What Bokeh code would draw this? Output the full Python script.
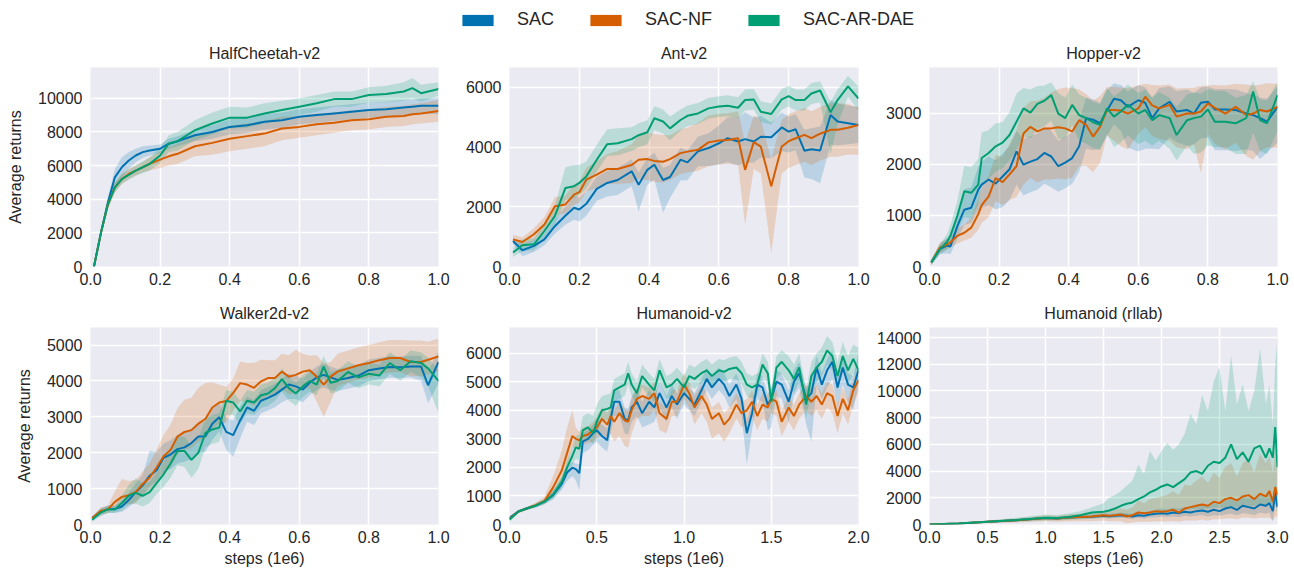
from bokeh.plotting import figure
from bokeh.models import Range1d, FixedTicker, PrintfTickFormatter, Legend, LegendItem
from bokeh.layouts import column, row
from bokeh.embed import file_html
from bokeh.resources import INLINE

methods = ["SAC", "SAC-NF", "SAC-AR-DAE"]
colors = ["#0072B2", "#D55E00", "#009E73"]
FONT = "Liberation Sans"
TXT = "#262626"

# ---------------- HalfCheetah-v2 ----------------
hc_x = [0.01, 0.03, 0.05, 0.07, 0.09, 0.11, 0.13, 0.15, 0.17, 0.2, 0.225, 0.25, 0.3, 0.35, 0.4, 0.45, 0.5, 0.55, 0.6, 0.65, 0.7, 0.75, 0.8, 0.85, 0.9, 0.925, 0.95, 1.0]
hc_sac = [0, 2000, 3800, 5300, 5900, 6300, 6600, 6800, 6900, 7000, 7300, 7450, 7800, 8000, 8300, 8400, 8600, 8700, 8900, 9000, 9100, 9200, 9300, 9350, 9450, 9500, 9550, 9550]
hc_sac_hw = [100, 200, 300, 500, 600, 500, 400, 350, 300, 250, 300, 300, 350, 400, 450, 450, 450, 450, 450, 450, 450, 450, 450, 450, 450, 450, 450, 500]
hc_nf = [0, 2000, 3700, 4700, 5200, 5500, 5700, 5900, 6100, 6350, 6550, 6700, 7150, 7350, 7600, 7750, 7900, 8200, 8300, 8450, 8550, 8700, 8750, 8900, 8950, 9050, 9100, 9250]
hc_nf_hw = [100, 200, 300, 300, 300, 300, 300, 300, 400, 500, 550, 600, 600, 700, 750, 750, 750, 700, 650, 650, 600, 600, 600, 600, 600, 600, 600, 650]
hc_ar = [0, 2000, 3700, 4700, 5200, 5450, 5700, 5900, 6100, 6600, 7300, 7450, 8100, 8500, 8850, 8850, 9100, 9300, 9500, 9700, 9950, 9950, 10200, 10250, 10400, 10600, 10300, 10550]
hc_ar_hw = [100, 200, 300, 300, 300, 300, 300, 350, 400, 450, 500, 550, 600, 650, 650, 600, 600, 550, 500, 500, 450, 450, 450, 500, 550, 600, 500, 400]

# ---------------- Ant-v2 ----------------
ant_x = [0.01, 0.037, 0.07, 0.1, 0.13, 0.16, 0.185, 0.2, 0.22, 0.25, 0.28, 0.31, 0.35, 0.37, 0.395, 0.415, 0.44, 0.46, 0.49, 0.51, 0.54, 0.57, 0.6, 0.625, 0.655, 0.675, 0.7, 0.72, 0.75, 0.78, 0.8, 0.82, 0.845, 0.865, 0.89, 0.92, 0.94, 0.97, 1.0]
ant_sac = [855, 545, 690, 910, 1350, 1700, 1970, 1910, 2100, 2600, 2800, 2900, 3190, 2740, 3240, 3410, 2900, 3000, 3580, 3490, 3860, 3970, 4130, 4300, 4190, 4270, 4190, 4350, 4330, 4660, 4520, 4600, 3880, 3930, 3890, 5080, 4860, 4800, 4740]
ant_sac_dn = [100, 200, 200, 200, 250, 300, 400, 400, 400, 400, 450, 500, 500, 900, 500, 500, 1100, 700, 700, 600, 500, 600, 700, 800, 800, 800, 700, 700, 700, 800, 700, 700, 900, 1000, 1100, 1000, 800, 700, 600]
ant_sac_up = [100, 200, 200, 200, 250, 300, 400, 400, 400, 400, 400, 400, 400, 400, 400, 400, 400, 400, 400, 400, 500, 500, 600, 700, 800, 900, 800, 700, 500, 500, 500, 500, 700, 700, 800, 500, 600, 600, 600]
ant_nf = [910, 820, 1080, 1410, 2020, 2080, 2410, 2490, 2910, 3080, 3270, 3270, 3400, 3580, 3600, 3540, 3510, 3600, 3800, 3850, 3910, 4160, 4220, 4240, 4300, 3240, 4170, 4020, 2690, 4020, 4200, 4300, 4410, 4300, 4450, 4580, 4580, 4650, 4740]
ant_nf_dn = [150, 150, 200, 250, 300, 300, 350, 350, 400, 450, 500, 500, 600, 650, 700, 700, 700, 700, 700, 700, 700, 800, 800, 800, 900, 1850, 900, 900, 2250, 900, 900, 900, 900, 900, 900, 900, 900, 900, 1000]
ant_nf_up = [150, 150, 200, 250, 300, 300, 350, 350, 400, 450, 500, 600, 700, 800, 900, 900, 900, 800, 800, 800, 900, 900, 900, 900, 900, 900, 900, 900, 900, 900, 900, 900, 900, 900, 900, 900, 900, 800, 600]
ant_ar = [470, 710, 745, 1190, 1690, 2630, 2690, 2800, 3020, 3580, 4100, 4130, 4270, 4400, 4500, 4970, 4860, 4630, 4910, 5050, 5130, 5300, 5360, 5390, 5320, 5580, 5600, 5190, 5110, 5600, 5710, 5580, 5580, 5800, 5900, 5170, 5580, 6040, 5630]
ant_ar_dn = [150, 200, 200, 250, 300, 400, 400, 400, 400, 400, 400, 400, 400, 400, 400, 400, 400, 400, 350, 350, 350, 350, 350, 350, 350, 350, 350, 350, 350, 350, 350, 350, 350, 350, 400, 1400, 800, 350, 400]
ant_ar_up = [150, 200, 200, 250, 350, 700, 700, 600, 500, 500, 500, 500, 400, 400, 400, 400, 400, 400, 350, 350, 350, 350, 350, 350, 350, 350, 350, 350, 350, 350, 350, 350, 350, 350, 300, 350, 350, 350, 400]

# ---------------- Hopper-v2 ----------------
hop_x = [0.005, 0.03, 0.05, 0.06, 0.08, 0.1, 0.12, 0.14, 0.15, 0.17, 0.19, 0.21, 0.23, 0.25, 0.27, 0.29, 0.31, 0.33, 0.35, 0.37, 0.39, 0.41, 0.43, 0.45, 0.47, 0.49, 0.51, 0.53, 0.55, 0.57, 0.6, 0.62, 0.64, 0.66, 0.69, 0.71, 0.74, 0.76, 0.78, 0.8, 0.82, 0.85, 0.88, 0.91, 0.93, 0.95, 0.97, 1.0]
hop_sac = [80, 340, 410, 390, 790, 1110, 1150, 1500, 1600, 1700, 1620, 1760, 1900, 2250, 1990, 2050, 2100, 2220, 2150, 1960, 2030, 2120, 2350, 2900, 2870, 2800, 3050, 3280, 3250, 3120, 3250, 3200, 2900, 3090, 3220, 3030, 3060, 2990, 3200, 3220, 3070, 3070, 3060, 2990, 2960, 2900, 2830, 3120]
hop_sac_dn = [50, 100, 150, 150, 250, 300, 300, 400, 450, 500, 500, 600, 600, 650, 600, 600, 600, 600, 600, 500, 500, 500, 500, 600, 600, 500, 500, 500, 600, 800, 1000, 900, 600, 800, 700, 600, 700, 600, 700, 700, 800, 800, 800, 700, 700, 800, 600, 700]
hop_sac_up = [50, 100, 150, 150, 250, 400, 400, 450, 450, 450, 450, 450, 450, 400, 500, 500, 500, 500, 500, 500, 500, 500, 500, 400, 400, 400, 400, 300, 300, 300, 300, 300, 400, 400, 300, 400, 400, 400, 300, 300, 400, 400, 400, 400, 400, 400, 450, 400]
hop_nf = [80, 370, 430, 470, 600, 660, 760, 1020, 1200, 1370, 1730, 1650, 1800, 1960, 2600, 2730, 2640, 2700, 2700, 2720, 2700, 2640, 2860, 2770, 2540, 2730, 3060, 3060, 3050, 2990, 3090, 3320, 3150, 3090, 3160, 2930, 2990, 2990, 3030, 3190, 3100, 2990, 3120, 2960, 2990, 3060, 3030, 3120]
hop_nf_dn = [50, 100, 100, 100, 150, 150, 200, 300, 350, 400, 450, 450, 500, 600, 1000, 1000, 1000, 1000, 1000, 1000, 1000, 900, 900, 800, 700, 700, 500, 600, 700, 700, 500, 600, 600, 600, 700, 600, 700, 600, 1200, 600, 700, 700, 700, 800, 900, 800, 700, 800]
hop_nf_up = [50, 100, 100, 100, 150, 150, 200, 300, 350, 400, 450, 500, 600, 700, 500, 500, 600, 600, 700, 750, 800, 850, 600, 600, 700, 600, 450, 450, 450, 500, 450, 250, 400, 450, 400, 550, 500, 500, 500, 350, 450, 550, 450, 600, 550, 500, 550, 450]
hop_ar = [80, 340, 480, 600, 990, 1470, 1440, 1600, 2120, 2220, 2350, 2420, 2570, 2830, 3090, 3010, 3180, 3240, 3350, 2990, 2900, 3160, 2960, 2900, 2820, 2770, 3090, 2930, 3030, 3160, 2990, 3060, 2860, 2960, 2900, 2570, 2860, 2900, 2930, 3070, 2830, 2830, 2800, 2900, 3420, 2860, 2800, 3350]
hop_ar_dn = [50, 100, 150, 200, 300, 500, 500, 400, 500, 500, 500, 500, 500, 550, 550, 500, 500, 500, 500, 500, 400, 400, 500, 500, 500, 500, 500, 600, 600, 600, 600, 600, 500, 500, 600, 500, 500, 700, 700, 700, 500, 500, 600, 700, 800, 600, 600, 700]
hop_ar_up = [50, 100, 150, 200, 300, 500, 500, 500, 500, 450, 450, 400, 450, 550, 400, 450, 350, 300, 250, 400, 400, 400, 400, 400, 400, 400, 400, 400, 400, 400, 400, 400, 450, 450, 400, 550, 500, 500, 450, 400, 600, 600, 500, 450, 200, 400, 450, 250]

# ---------------- Walker2d-v2 ----------------
wk_x = [0.005, 0.03, 0.05, 0.07, 0.09, 0.11, 0.13, 0.15, 0.17, 0.19, 0.21, 0.23, 0.25, 0.27, 0.29, 0.31, 0.33, 0.35, 0.37, 0.39, 0.41, 0.43, 0.45, 0.47, 0.49, 0.51, 0.53, 0.55, 0.57, 0.59, 0.61, 0.63, 0.65, 0.67, 0.69, 0.71, 0.74, 0.77, 0.8, 0.83, 0.86, 0.89, 0.92, 0.95, 0.97, 1.0]
wk_sac = [180, 360, 430, 430, 500, 680, 900, 1090, 1360, 1510, 1860, 1950, 2100, 2150, 2270, 2450, 2460, 2810, 2990, 2580, 2490, 2900, 3260, 3170, 3450, 3530, 3620, 3760, 3900, 3850, 3760, 3950, 4100, 4170, 4100, 4030, 4080, 4150, 4300, 4350, 4390, 4380, 4400, 4400, 3880, 4530]
wk_sac_dn = [50, 100, 100, 100, 150, 200, 250, 300, 300, 300, 400, 400, 400, 400, 450, 450, 450, 450, 400, 500, 600, 500, 400, 400, 350, 350, 350, 350, 400, 350, 350, 350, 350, 350, 350, 300, 300, 300, 300, 300, 300, 300, 300, 400, 500, 600]
wk_sac_up = [50, 100, 100, 100, 150, 200, 250, 300, 700, 500, 400, 400, 400, 400, 400, 400, 400, 400, 400, 400, 400, 400, 300, 300, 300, 300, 300, 300, 300, 300, 300, 300, 300, 300, 300, 300, 300, 300, 300, 300, 300, 300, 300, 300, 400, 300]
wk_nf = [180, 380, 420, 630, 770, 815, 900, 1130, 1310, 1590, 1900, 2080, 2450, 2580, 2630, 2810, 2940, 3260, 3400, 3440, 3670, 3940, 3900, 3810, 3990, 4080, 4080, 4260, 4120, 4170, 4260, 4300, 4120, 3900, 4120, 4260, 4350, 4440, 4500, 4580, 4640, 4640, 4530, 4530, 4590, 4680]
wk_nf_dn = [50, 100, 100, 150, 200, 250, 300, 300, 350, 400, 450, 500, 500, 500, 500, 500, 550, 600, 600, 600, 500, 500, 500, 500, 500, 500, 500, 500, 500, 500, 500, 500, 700, 900, 700, 400, 400, 400, 400, 400, 400, 400, 400, 400, 400, 400]
wk_nf_up = [50, 100, 100, 300, 500, 400, 350, 350, 400, 500, 600, 700, 800, 900, 900, 1000, 1000, 700, 500, 400, 400, 600, 600, 700, 600, 500, 500, 500, 600, 700, 500, 400, 600, 600, 400, 500, 500, 500, 500, 500, 500, 500, 600, 600, 500, 500]
wk_ar = [130, 340, 420, 420, 600, 800, 880, 800, 900, 1150, 1400, 1700, 2050, 2050, 1800, 2000, 2550, 2650, 2700, 3450, 3400, 3150, 3450, 3400, 3600, 3650, 3800, 4050, 3800, 3650, 3850, 4000, 3900, 4400, 3950, 4000, 4250, 4100, 4200, 4150, 4500, 4300, 4550, 4500, 4350, 4000]
wk_ar_dn = [50, 100, 100, 100, 200, 250, 300, 300, 300, 300, 350, 400, 400, 450, 500, 450, 400, 400, 400, 400, 350, 350, 350, 350, 350, 350, 350, 350, 350, 350, 300, 300, 300, 300, 300, 300, 300, 300, 300, 300, 300, 300, 300, 400, 500, 900]
wk_ar_up = [50, 100, 100, 100, 200, 300, 400, 350, 300, 300, 350, 400, 400, 400, 400, 400, 400, 400, 400, 300, 300, 300, 300, 300, 300, 300, 300, 300, 300, 300, 300, 300, 300, 300, 300, 300, 300, 300, 300, 300, 300, 300, 300, 300, 300, 300]

# ---------------- Humanoid-v2 ----------------
hu_x = [0, 0.05, 0.1, 0.15, 0.2, 0.25, 0.3, 0.33, 0.36, 0.38, 0.4, 0.42, 0.45, 0.48, 0.5, 0.53, 0.56, 0.58, 0.6, 0.63, 0.66, 0.68, 0.7, 0.73, 0.76, 0.8, 0.83, 0.86, 0.9, 0.93, 0.96, 1.0, 1.03, 1.06, 1.1, 1.13, 1.16, 1.2, 1.23, 1.26, 1.3, 1.33, 1.36, 1.39, 1.42, 1.45, 1.48, 1.5, 1.53, 1.56, 1.6, 1.63, 1.66, 1.7, 1.73, 1.76, 1.79, 1.82, 1.85, 1.88, 1.91, 1.94, 1.97, 2.0]
hu_sac = [230, 455, 570, 660, 800, 1030, 1420, 1820, 1990, 1940, 1800, 2900, 3000, 3200, 3300, 3100, 2950, 3700, 4300, 4300, 3700, 3650, 4100, 4300, 3900, 4300, 4100, 4600, 4100, 4500, 4200, 4600, 4400, 4200, 4700, 5100, 4800, 5100, 4900, 4500, 4900, 4400, 3200, 3900, 4900, 4800, 4200, 4400, 5000, 4900, 4300, 5000, 5300, 4400, 4600, 5500, 4900, 5400, 5700, 4800, 5500, 4900, 4800, 5400]
hu_sac_dn = [50, 50, 50, 50, 80, 150, 200, 300, 300, 400, 600, 400, 400, 400, 400, 400, 400, 500, 500, 500, 500, 500, 500, 500, 500, 800, 500, 500, 500, 400, 500, 400, 400, 400, 400, 400, 400, 400, 400, 400, 500, 600, 1100, 600, 500, 500, 900, 1000, 500, 500, 700, 500, 500, 900, 1700, 600, 500, 600, 600, 700, 600, 600, 800, 500]
hu_sac_up = [50, 50, 50, 50, 80, 150, 200, 200, 200, 200, 300, 300, 300, 300, 400, 400, 400, 400, 400, 400, 400, 400, 400, 400, 400, 400, 400, 400, 400, 400, 400, 400, 400, 400, 400, 400, 400, 400, 400, 400, 400, 400, 400, 400, 400, 400, 400, 400, 400, 400, 400, 400, 400, 400, 400, 400, 400, 400, 400, 400, 400, 400, 400, 600]
hu_nf = [200, 450, 560, 680, 820, 1300, 1900, 2500, 3100, 3000, 2950, 3100, 3150, 3300, 3400, 3700, 3500, 3800, 3600, 3900, 3650, 3600, 4000, 4400, 4500, 4400, 4600, 3900, 3700, 4300, 4300, 4900, 4600, 4100, 4500, 4200, 3700, 3900, 3500, 3700, 4200, 3900, 4000, 4300, 3800, 4200, 4100, 4400, 4300, 3600, 4100, 3800, 4200, 4500, 4300, 4500, 4200, 4600, 4500, 3800, 4400, 4000, 4700, 5050]
hu_nf_dn = [50, 50, 50, 80, 100, 300, 400, 500, 400, 300, 300, 300, 300, 400, 400, 500, 500, 600, 700, 800, 900, 900, 800, 700, 700, 600, 600, 600, 500, 500, 500, 500, 500, 600, 600, 600, 700, 700, 600, 500, 500, 500, 500, 500, 500, 500, 500, 500, 500, 500, 500, 500, 500, 500, 500, 500, 500, 500, 600, 600, 500, 500, 500, 400]
hu_nf_up = [50, 50, 50, 80, 150, 400, 700, 900, 900, 400, 300, 300, 300, 300, 400, 400, 400, 400, 400, 400, 400, 400, 400, 400, 400, 400, 400, 400, 400, 400, 400, 400, 400, 400, 400, 400, 400, 400, 400, 400, 400, 400, 400, 400, 400, 400, 400, 400, 400, 400, 400, 400, 400, 400, 400, 400, 400, 400, 400, 400, 400, 400, 400, 400]
hu_ar = [170, 450, 560, 660, 800, 1050, 1500, 2000, 2400, 2700, 2650, 3300, 3400, 3200, 3600, 4000, 4050, 4100, 4700, 4800, 4900, 5300, 4900, 4600, 5200, 4900, 4700, 5400, 4800, 4900, 5100, 4800, 5200, 5100, 5300, 5400, 5200, 5400, 5350, 5450, 5500, 5300, 4900, 4800, 4900, 5600, 5300, 4300, 5500, 5700, 5400, 5100, 5500, 4200, 5200, 5500, 5700, 6100, 5900, 5200, 5900, 5400, 5800, 5400]
hu_ar_dn = [50, 50, 50, 80, 100, 150, 200, 250, 300, 400, 400, 400, 400, 400, 400, 400, 400, 400, 400, 400, 400, 400, 400, 400, 400, 400, 400, 400, 400, 400, 350, 350, 350, 350, 350, 350, 350, 350, 350, 350, 400, 400, 400, 400, 400, 400, 400, 400, 400, 400, 500, 500, 500, 500, 500, 500, 500, 500, 500, 500, 500, 500, 500, 500]
hu_ar_up = [50, 50, 50, 80, 100, 150, 200, 250, 300, 400, 500, 500, 500, 600, 600, 500, 500, 500, 400, 400, 400, 400, 400, 400, 400, 400, 400, 400, 400, 400, 400, 400, 400, 400, 400, 400, 400, 400, 400, 400, 400, 400, 400, 400, 400, 400, 400, 400, 400, 400, 500, 500, 500, 500, 500, 500, 500, 500, 500, 500, 500, 500, 500, 800]

# ---------------- Humanoid (rllab): lower / upper bounds ----------------
rl_x = [0, 0.25, 0.5, 0.75, 1.0, 1.1, 1.2, 1.3, 1.4, 1.5, 1.55, 1.6, 1.65, 1.7, 1.75, 1.8, 1.85, 1.9, 1.95, 2.0, 2.05, 2.1, 2.15, 2.2, 2.25, 2.3, 2.35, 2.4, 2.45, 2.5, 2.55, 2.6, 2.65, 2.7, 2.75, 2.8, 2.85, 2.9, 2.93, 2.96, 2.98, 3.0]
rl_sac = [0, 80, 200, 320, 480, 450, 520, 560, 580, 650, 620, 650, 700, 650, 600, 700, 650, 750, 800, 850, 800, 900, 850, 950, 900, 1000, 1050, 950, 1100, 1000, 1200, 1300, 1100, 1400, 1300, 1200, 1500, 1400, 1600, 1000, 2400, 1300]
rl_sac_lo = [0, 60, 150, 250, 380, 350, 400, 430, 440, 480, 450, 480, 500, 460, 420, 500, 450, 520, 550, 580, 550, 600, 550, 650, 600, 650, 700, 600, 700, 650, 750, 800, 700, 850, 800, 700, 900, 800, 900, 200, 1500, 700]
rl_sac_hi = [0, 100, 260, 400, 600, 560, 650, 700, 750, 850, 800, 850, 900, 850, 800, 950, 900, 1000, 1100, 1200, 1150, 1250, 1200, 1300, 1300, 1400, 1500, 1400, 1600, 1500, 1800, 1900, 1700, 2100, 2000, 1900, 2300, 2200, 2600, 2000, 3000, 2200]
rl_nf = [0, 80, 200, 320, 480, 450, 520, 560, 600, 700, 650, 700, 750, 600, 700, 900, 850, 900, 1000, 950, 1000, 1100, 900, 1200, 1300, 1400, 1500, 1400, 1700, 1600, 1900, 2000, 1800, 2100, 2200, 1900, 2300, 2100, 2500, 1700, 2800, 2200]
rl_nf_lo = [0, 40, 100, 150, 250, 200, 250, 250, 250, 300, 250, 250, 250, 100, 150, 200, 200, 200, 250, 200, 250, 250, 200, 300, 300, 300, 350, 300, 400, 400, 450, 450, 400, 500, 500, 450, 500, 500, 500, 300, 600, 500]
rl_nf_hi = [0, 120, 300, 450, 700, 650, 750, 800, 850, 1000, 1000, 1100, 1200, 1100, 1300, 1800, 1600, 1900, 2000, 2100, 2200, 2500, 2200, 3000, 2900, 3300, 3600, 3100, 3900, 3500, 4300, 4600, 3600, 4600, 4900, 3900, 5300, 4600, 5100, 3900, 5600, 4600]
rl_ar = [0, 80, 200, 330, 500, 480, 560, 700, 900, 950, 1050, 1200, 1400, 1550, 1650, 1900, 2100, 2400, 2600, 2850, 3000, 2800, 3100, 3400, 3900, 4000, 3800, 4400, 4700, 4600, 5000, 6000, 4900, 5400, 4700, 5700, 5900, 5000, 5700, 5000, 7300, 4300]
rl_ar_lo = [0, 50, 120, 200, 300, 300, 350, 400, 450, 500, 500, 550, 600, 650, 700, 750, 800, 850, 900, 950, 1000, 1000, 1050, 1100, 1150, 1150, 1150, 1200, 1250, 1250, 1300, 1300, 1300, 1350, 1350, 1400, 1450, 1450, 1500, 1500, 1550, 1500]
rl_ar_hi = [0, 120, 300, 500, 750, 700, 850, 1000, 1300, 1600, 2000, 2200, 2500, 2900, 3300, 4500, 3800, 5500, 4800, 5500, 6100, 5600, 6000, 6800, 8300, 7500, 9700, 8500, 10700, 11800, 8500, 12700, 9000, 10500, 8500, 10000, 13200, 9000, 10500, 7500, 12000, 14000]

# tick values
hc_yticks = [0, 2000, 4000, 6000, 8000, 10000]
ant_yticks = [0, 2000, 4000, 6000]
hop_yticks = [0, 1000, 2000, 3000]
wk_yticks = [0, 1000, 2000, 3000, 4000, 5000]
hu_yticks = [0, 1000, 2000, 3000, 4000, 5000, 6000]
rl_yticks = [0, 2000, 4000, 6000, 8000, 10000, 12000, 14000]
x1_ticks = [0.0, 0.2, 0.4, 0.6, 0.8, 1.0]
x2_ticks = [0.0, 0.5, 1.0, 1.5, 2.0]
x3_ticks = [0.0, 0.5, 1.0, 1.5, 2.0, 2.5, 3.0]


def with_offsets(mean, dn, up):
    return (mean, [m - d for m, d in zip(mean, dn)], [m + u for m, u in zip(mean, up)])


def panel(title, x, series, xmax, ymax, yticks, xticks, fw, fh, bl, br, bt, bb,
          ylabel=None, xlabel=None):
    p = figure(width=bl + fw + br, height=bt + fh + bb,
               x_range=Range1d(0, xmax), y_range=Range1d(0, ymax),
               output_backend="svg", toolbar_location=None,
               min_border_left=bl, min_border_right=br,
               min_border_top=bt, min_border_bottom=bb,
               background_fill_color="#EAEAF2", border_fill_color="white",
               outline_line_color=None)
    for (mean, lo, hi), c in zip(series, colors):
        p.varea(x=x, y1=lo, y2=hi, fill_color=c, fill_alpha=0.2)
    for (mean, lo, hi), c in zip(series, colors):
        p.line(x=x, y=mean, line_color=c, line_width=2)

    p.title.text = title
    p.title.align = "center"
    p.title.vertical_align = "middle"
    p.title.text_font = FONT
    p.title.text_font_size = "16px"
    p.title.text_font_style = "normal"
    p.title.text_color = TXT

    p.yaxis.ticker = FixedTicker(ticks=yticks)
    p.yaxis.formatter = PrintfTickFormatter(format="%d")
    p.xaxis.ticker = FixedTicker(ticks=xticks)
    p.xaxis.formatter = PrintfTickFormatter(format="%.1f")
    for ax in (p.xaxis, p.yaxis):
        ax.axis_line_color = None
        ax.major_tick_line_color = None
        ax.minor_tick_line_color = None
        ax.major_tick_out = 0
        ax.major_tick_in = 0
        ax.major_label_text_font = FONT
        ax.major_label_text_font_size = "16px"
        ax.major_label_text_color = TXT
        ax.axis_label_text_font = FONT
        ax.axis_label_text_font_size = "16px"
        ax.axis_label_text_font_style = "normal"
        ax.axis_label_text_color = TXT
    p.yaxis.major_label_standoff = 8
    p.xaxis.major_label_standoff = 6
    if ylabel:
        p.yaxis.axis_label = ylabel
        p.yaxis.axis_label_standoff = 11
    if xlabel:
        p.xaxis.axis_label = xlabel
        p.xaxis.axis_label_standoff = 4
    p.grid.grid_line_color = "white"
    p.grid.grid_line_width = 1.5
    return p


YL = "Average returns"
XL = "steps (1e6)"

p1 = panel("HalfCheetah-v2", hc_x,
           [with_offsets(hc_sac, hc_sac_hw, hc_sac_hw), with_offsets(hc_nf, hc_nf_hw, hc_nf_hw),
            with_offsets(hc_ar, hc_ar_hw, hc_ar_hw)],
           1.0, 11830, hc_yticks, x1_ticks, 348, 200, 90, 20, 28, 32, ylabel=YL)
p2 = panel("Ant-v2", ant_x,
           [with_offsets(ant_sac, ant_sac_dn, ant_sac_up), with_offsets(ant_nf, ant_nf_dn, ant_nf_up),
            with_offsets(ant_ar, ant_ar_dn, ant_ar_up)],
           1.0, 6670, ant_yticks, x1_ticks, 349, 200, 51, 20, 28, 32)
p3 = panel("Hopper-v2", hop_x,
           [with_offsets(hop_sac, hop_sac_dn, hop_sac_up), with_offsets(hop_nf, hop_nf_dn, hop_nf_up),
            with_offsets(hop_ar, hop_ar_dn, hop_ar_up)],
           1.0, 3890, hop_yticks, x1_ticks, 348, 200, 51, 16, 28, 32)
p4 = panel("Walker2d-v2", wk_x,
           [with_offsets(wk_sac, wk_sac_dn, wk_sac_up), with_offsets(wk_nf, wk_nf_dn, wk_nf_up),
            with_offsets(wk_ar, wk_ar_dn, wk_ar_up)],
           1.0, 5490, wk_yticks, x1_ticks, 348, 202, 90, 20, 25, 44, ylabel=YL, xlabel=XL)
p5 = panel("Humanoid-v2", hu_x,
           [with_offsets(hu_sac, hu_sac_dn, hu_sac_up), with_offsets(hu_nf, hu_nf_dn, hu_nf_up),
            with_offsets(hu_ar, hu_ar_dn, hu_ar_up)],
           2.0, 6900, hu_yticks, x2_ticks, 349, 202, 51, 12, 25, 44, xlabel=XL)
p6 = panel("Humanoid (rllab)", rl_x,
           [(rl_sac, rl_sac_lo, rl_sac_hi), (rl_nf, rl_nf_lo, rl_nf_hi), (rl_ar, rl_ar_lo, rl_ar_hi)],
           3.0, 14750, rl_yticks, x3_ticks, 348, 202, 59, 16, 25, 44, xlabel=XL)

# legend strip (dummy glyphs kept outside the visible range so only the legend shows)
lg = figure(width=1293, height=38, min_border=0,
            x_range=Range1d(0, 1), y_range=Range1d(0, 1),
            output_backend="svg", toolbar_location=None,
            x_axis_type=None, y_axis_type=None, outline_line_color=None)
items = []
for m, c in zip(methods, colors):
    rr = lg.quad(left=[-3], right=[-2], top=[-2], bottom=[-3], fill_color=c, line_color=None)
    items.append(LegendItem(label=m, renderers=[rr]))
leg = Legend(items=items, orientation="horizontal", location=(458, 8),
             glyph_width=39, glyph_height=14, label_standoff=20, spacing=32,
             label_height=14, padding=0, margin=0,
             label_text_font=FONT, label_text_font_size="18px",
             label_text_color=TXT, background_fill_alpha=0, border_line_color=None)
lg.add_layout(leg)

layout = column(lg, row(p1, p2, p3), row(p4, p5, p6))
open("out.html", "w").write(file_html(layout, INLINE))
